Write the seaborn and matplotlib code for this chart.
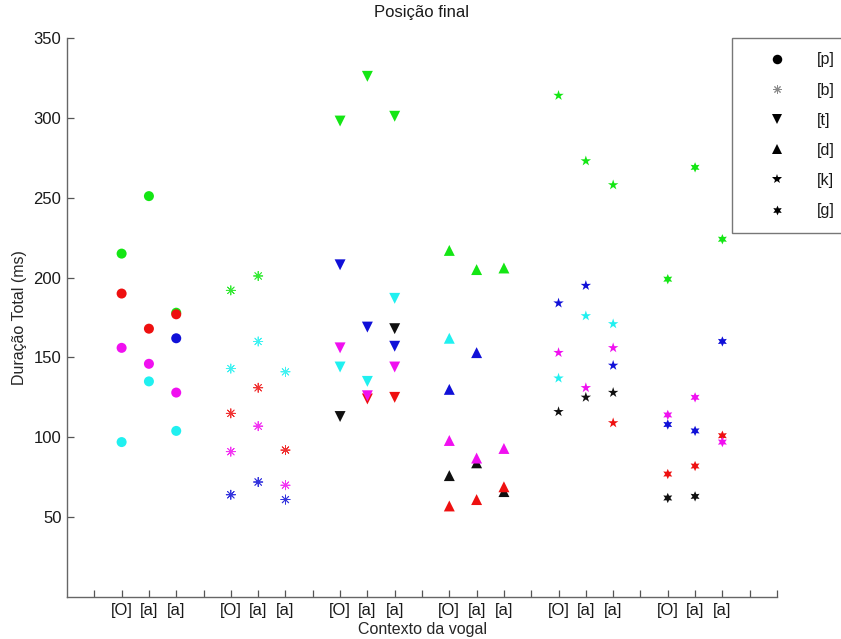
import numpy as np
import pandas as pd
import matplotlib
matplotlib.use("Agg")
import matplotlib.pyplot as plt
from matplotlib.lines import Line2D
import seaborn as sns

# ---- data -------------------------------------------------------------
consonants = ["[p]", "[b]", "[t]", "[d]", "[k]", "[g]"]
contexts = ["[O]", "[a]", "[a]"]

# speakers in drawing order (later ones are drawn on top)
speakers = ["S6", "S1", "S4", "S5", "S2", "S3"]
speaker_colors = {
    "S1": "#14e614",   # green
    "S2": "#ee1010",   # red
    "S3": "#f010f0",   # magenta
    "S4": "#20f0f0",   # cyan
    "S5": "#1010d8",   # blue
    "S6": "#101010",   # black
}

nan = np.nan
# total duration (ms) per speaker, for contexts [O], [a], [a]
dur_p = {"S6": [nan, nan, nan], "S1": [215, 251, 178], "S4": [97, 135, 104],
         "S5": [nan, nan, 162], "S2": [190, 168, 177], "S3": [156, 146, 128]}
dur_b = {"S6": [nan, nan, nan], "S1": [192, 201, nan], "S4": [143, 160, 141],
         "S5": [64, 72, 61], "S2": [115, 131, 92], "S3": [91, 107, 70]}
dur_t = {"S6": [113, nan, 168], "S1": [298, 326, 301], "S4": [144, 135, 187],
         "S5": [208, 169, 157], "S2": [nan, 124, 125], "S3": [156, 126, 144]}
dur_d = {"S6": [76, 84, 66], "S1": [217, 205, 206], "S4": [162, nan, nan],
         "S5": [130, 153, nan], "S2": [57, 61, 69], "S3": [98, 87, 93]}
dur_k = {"S6": [116, 125, 128], "S1": [314, 273, 258], "S4": [137, 176, 171],
         "S5": [184, 195, 145], "S2": [nan, nan, 109], "S3": [153, 131, 156]}
dur_g = {"S6": [62, 63, nan], "S1": [199, 269, 224], "S4": [nan, nan, nan],
         "S5": [108, 104, 160], "S2": [77, 82, 101], "S3": [114, 125, 97]}

durations = [dur_p, dur_b, dur_t, dur_d, dur_k, dur_g]

# ---- long table --------------------------------------------------------
rows = []
for ci, (cons, table) in enumerate(zip(consonants, durations)):
    for spk in speakers:
        for vi, value in enumerate(table[spk]):
            if np.isnan(value):
                continue
            rows.append({"consoante": cons, "falante": spk,
                         "posicao": ci * (len(contexts) + 1) + vi + 2,
                         "duracao": value})
df = pd.DataFrame(rows)

# ---- style -------------------------------------------------------------
sns.set_style("ticks")
plt.rcParams["font.family"] = ["Liberation Sans", "DejaVu Sans"]
plt.rcParams["text.color"] = "#1a1a1a"

markers = {
    "[p]": ("o", 52, 0.0),
    "[b]": ((8, 2, 0), 44, 0.6),
    "[t]": ("v", 62, 0.0),
    "[d]": ("^", 62, 0.0),
    "[k]": ("*", 62, 0.0),
    "[g]": ((6, 1, 0), 55, 0.0),
}

W, H = 841, 639
fig = plt.figure(figsize=(W / 100, H / 100), dpi=100)
ax = fig.add_axes([67 / W, 1 - 597 / H, 710 / W, 559 / H])

for cons in consonants:
    sub = df[df["consoante"] == cons]
    mk, size, lw = markers[cons]
    sns.scatterplot(data=sub, x="posicao", y="duracao", hue="falante",
                    hue_order=speakers, palette=speaker_colors,
                    marker=mk, s=size, linewidth=lw, legend=False, ax=ax,
                    zorder=3, alpha=0.85 if cons == "[b]" else 1.0)

# ---- axes --------------------------------------------------------------
n_ticks = len(consonants) * (len(contexts) + 1) + 2
tick_labels = []
for _ in consonants:
    tick_labels += [""] + contexts
tick_labels += ["", ""]

ax.set_xlim(0, n_ticks)
ax.set_ylim(0, 350)
ax.set_xticks(range(1, n_ticks + 1))
ax.set_xticklabels(tick_labels)
ax.set_yticks(range(50, 351, 50))
ax.tick_params(direction="in", length=5, width=0.9, color="#555555",
               labelsize=12, pad=4, labelcolor="#1a1a1a")
sns.despine(ax=ax)
for side in ("left", "bottom"):
    ax.spines[side].set_color("#666666")
    ax.spines[side].set_linewidth(1.0)

ax.set_xlabel("Contexto da vogal", fontsize=11.5)
ax.set_ylabel("Duração Total (ms)", fontsize=11.5)
ax.xaxis.set_label_coords(0.5, -0.045)
ax.yaxis.set_label_coords(-0.056, 0.5)
ax.set_title("Posição final", fontsize=12, pad=15)

# ---- legend ------------------------------------------------------------
handles = []
for cons in consonants:
    mk, size, lw = markers[cons]
    is_line = cons == "[b]"
    handles.append(Line2D([], [], linestyle="none", marker=mk,
                          markersize=np.sqrt(size) * (0.95 if not is_line else 0.9),
                          color="#8a8a8a" if is_line else "black",
                          markeredgewidth=0.7 if is_line else 0.0))
leg = fig.legend(handles, consonants, loc="upper left",
                 bbox_to_anchor=(732 / W, 1 - 38 / H), borderaxespad=0,
                 fontsize=11.5, frameon=True, fancybox=False, framealpha=1,
                 borderpad=0.9, handlelength=3.8, handletextpad=0.6,
                 labelspacing=0.95)
leg.get_frame().set_edgecolor("#777777")
leg.get_frame().set_linewidth(1.0)

fig.savefig("out.png", dpi=100)
